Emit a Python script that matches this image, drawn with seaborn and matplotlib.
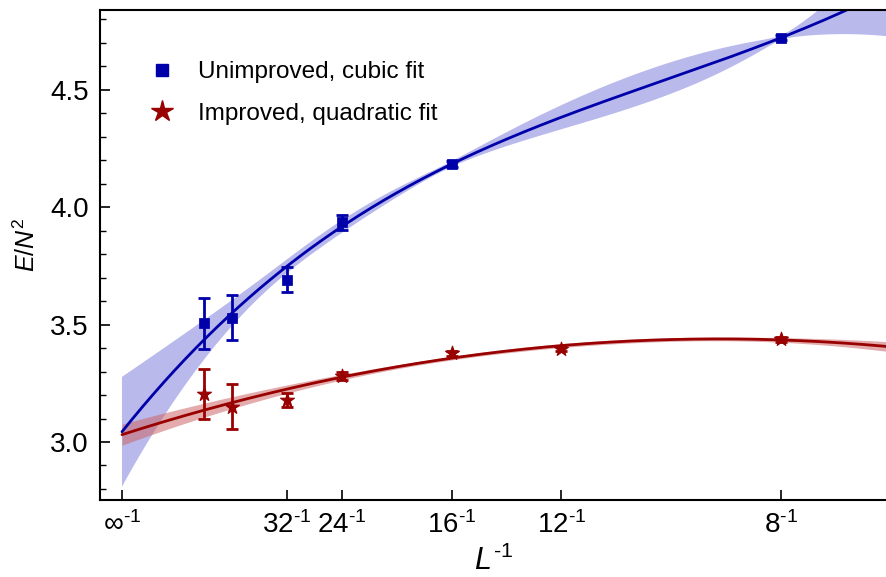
import numpy as np
import pandas as pd
import matplotlib
matplotlib.use("Agg")
import matplotlib.pyplot as plt
import seaborn as sns
from matplotlib.lines import Line2D

# ---- data ----
L_unimp = [64, 48, 32, 24, 16, 8]
E_unimp = [3.505, 3.530, 3.692, 3.935, 4.183, 4.722]
err_unimp = [0.110, 0.095, 0.055, 0.030, 0.012, 0.010]

L_imp = [64, 48, 32, 24, 16, 12, 8]
E_imp = [3.205, 3.150, 3.178, 3.280, 3.377, 3.398, 3.437]
err_imp = [0.105, 0.095, 0.030, 0.018, 0.012, 0.010, 0.010]

tick_L = [None, 32, 24, 16, 12, 8]
tick_labels = [r"$\infty^{‐1}$", r"$32^{‐1}$", r"$24^{‐1}$", r"$16^{‐1}$", r"$12^{‐1}$", r"$8^{‐1}$"]

labels = ["Unimproved, cubic fit", "Improved, quadratic fit"]

blue = "#0000aa"
red = "#990000"

sns.set_theme(style="ticks")
plt.rcParams["font.family"] = ["Liberation Sans", "DejaVu Sans"]
plt.rcParams["mathtext.fontset"] = "custom"
plt.rcParams["mathtext.rm"] = "Liberation Sans"
plt.rcParams["mathtext.it"] = "Liberation Sans:italic"
plt.rcParams["mathtext.bf"] = "Liberation Sans:bold"
for k in ["text.color", "axes.labelcolor", "xtick.color", "ytick.color", "axes.edgecolor"]:
    plt.rcParams[k] = "black"

df_u = pd.DataFrame({"x": 1.0 / np.array(L_unimp, float), "y": E_unimp, "e": err_unimp})
df_i = pd.DataFrame({"x": 1.0 / np.array(L_imp, float), "y": E_imp, "e": err_imp})


def fit_band(df, deg, xs):
    coef, cov = np.polyfit(df["x"], df["y"], deg, w=1.0 / df["e"], cov="unscaled")
    V = np.vander(xs, deg + 1)
    yfit = V @ coef
    sig = np.sqrt(np.einsum("ij,jk,ik->i", V, cov, V))
    return yfit, sig


fig = plt.figure(figsize=(8.86, 5.77), dpi=100)
ax = fig.add_axes([100 / 886, 77 / 577, 786 / 886, 490 / 577])

xs = np.linspace(0, 0.16, 400)
for df, deg, col, band in [(df_u, 3, blue, "#8080dd"), (df_i, 2, red, "#cc6666")]:
    yf, sg = fit_band(df, deg, xs)
    ax.fill_between(xs, yf - sg, yf + sg, color=band, alpha=0.55, lw=0)
    sns.lineplot(x=xs, y=yf, color=col, lw=2.0, ax=ax)

ax.errorbar(df_u["x"], df_u["y"], yerr=df_u["e"], fmt="none", ecolor=blue, elinewidth=2, capsize=4, capthick=2)
ax.errorbar(df_i["x"], df_i["y"], yerr=df_i["e"], fmt="none", ecolor=red, elinewidth=2, capsize=4, capthick=2)
sns.scatterplot(data=df_u, x="x", y="y", marker="s", s=45, color=blue, edgecolor=blue, ax=ax, zorder=5)
sns.scatterplot(data=df_i, x="x", y="y", marker="*", s=110, color=red, edgecolor=red, ax=ax, zorder=5)

ax.set_xlim(-0.00417, 0.1449)
ax.set_ylim(2.753, 4.84)

tick_x = [0.0 if t is None else 1.0 / t for t in tick_L]
ax.set_xticks(tick_x)
ax.set_xticklabels(tick_labels, fontsize=20)
ax.set_yticks([3.0, 3.5, 4.0, 4.5])
ax.set_yticklabels(["3.0", "3.5", "4.0", "4.5"], fontsize=20)
ax.set_yticks(np.arange(2.8, 4.85, 0.1), minor=True)
ax.tick_params(axis="both", direction="in", length=7, width=1.2, colors="black", pad=8)
ax.tick_params(axis="y", which="minor", direction="in", length=4, width=1.0)
for s in ["left", "bottom", "top"]:
    ax.spines[s].set_linewidth(1.5)
    ax.spines[s].set_color("black")
ax.spines["right"].set_visible(False)

ax.set_xlabel("")
ax.set_ylabel(r"$E/N^2$", fontsize=18)
ax.yaxis.set_label_coords(-60 / 786, 0.52)
fig.text(494 / 886, 0.5 / 577, r"$L^{‐1}$", fontsize=22, ha="center", va="bottom")

# legend
handles = [
    Line2D([], [], ls="none", marker="s", color=blue, markersize=8),
    Line2D([], [], ls="none", marker="*", color=red, markersize=16),
]
leg = ax.legend(handles, labels, loc="upper left", bbox_to_anchor=(0.048, 0.915), frameon=False,
                fontsize=17.5, handletextpad=0.9, labelspacing=0.8, borderaxespad=0,
                handlelength=1.2)
for t in leg.get_texts():
    t.set_color("black")

fig.savefig("out.png", dpi=100)
